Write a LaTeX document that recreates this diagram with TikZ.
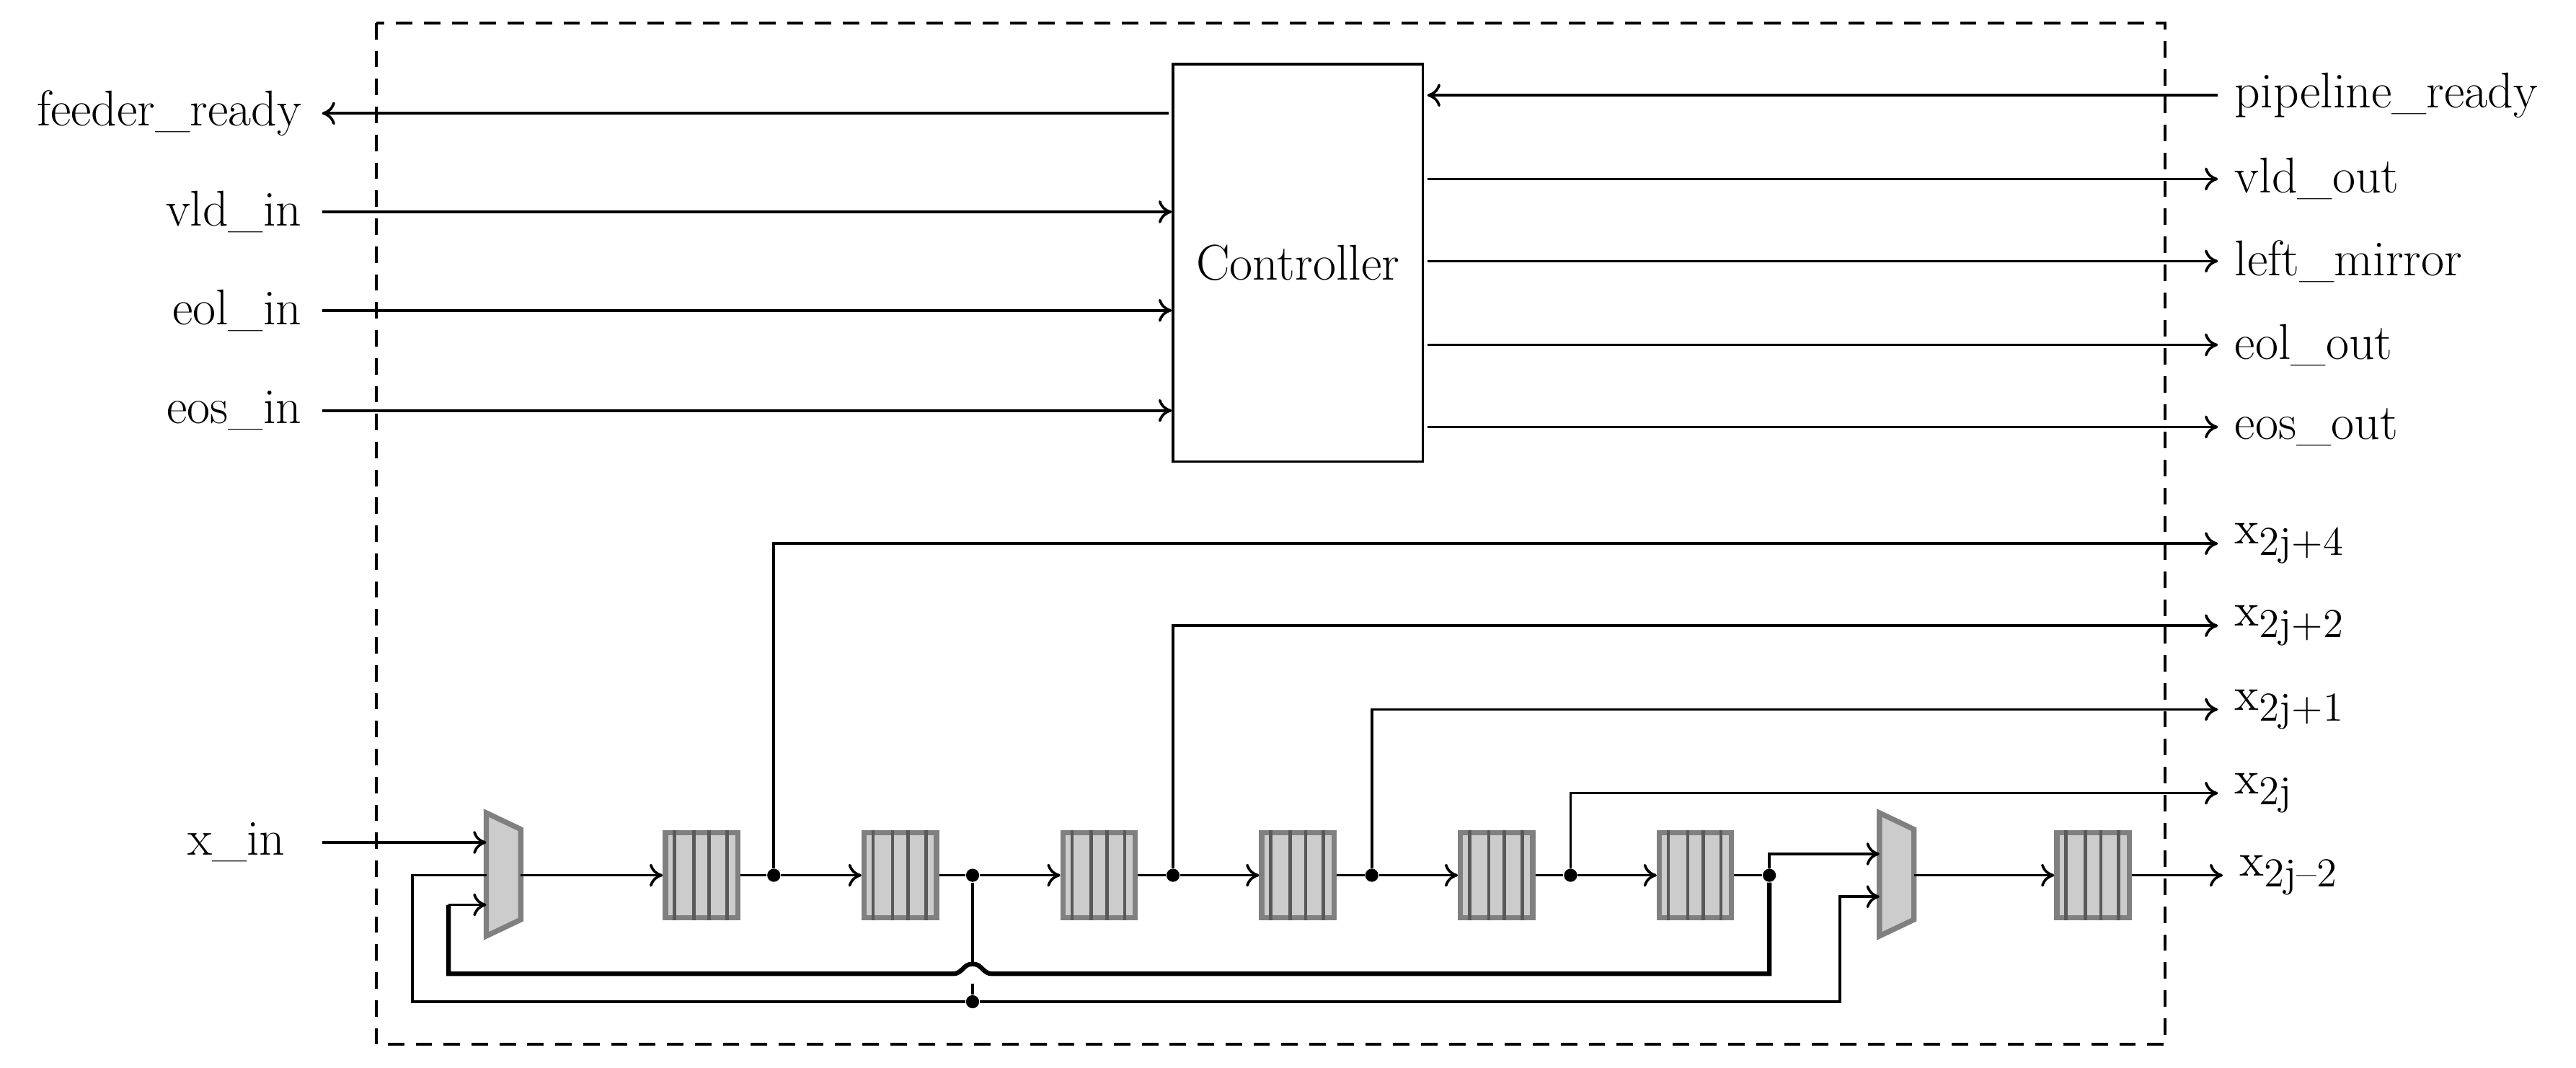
\documentclass[tikz,border=0pt]{standalone}
\usetikzlibrary{arrows.meta,calc}
\newcommand{\xsub}[1]{$\mathrm{x}_{\mbox{\fontsize{12.5}{14}\selectfont #1}}$}
\begin{document}
\begin{tikzpicture}[x=0.5pt,y=-0.5pt,
  every node/.style={font=\fontsize{15.3}{18}\selectfont},
  wire/.style={line width=0.8pt},
  arr/.style={wire,-{To[length=4pt,width=7pt]}},
  bold/.style={line width=1.4pt},
  reg/.style={draw=gray,fill=gray!40,line width=1.6pt,minimum width=22pt,minimum height=26pt,inner sep=0pt},
  dot/.style={circle,fill=black,inner sep=0pt,minimum size=4pt},
  lab/.style={inner sep=0pt}]
\useasboundingbox (0,0) rectangle (1568,650);
\draw[dash pattern=on 5pt off 3.5pt,line width=0.9pt] (229,14) rectangle (1318,636);
\node[draw,line width=0.8pt,minimum width=76pt,minimum height=121pt,inner sep=0pt] (ctl) at (790,160) {Controller};
% left signals
\node[lab,anchor=east] (fr) at (184,69) {feeder\_ready};
\node[lab,anchor=east] (vi) at (184,129) {vld\_in};
\node[lab,anchor=east] (ei) at (184,189) {eol\_in};
\node[lab,anchor=east] (si) at (184,250) {eos\_in};
\draw[arr] ([xshift=-1pt]ctl.west|-fr) -- ([xshift=6pt]fr.east);
\draw[arr] ([xshift=6pt]vi.east) -- (ctl.west|-vi);
\draw[arr] ([xshift=6pt]ei.east) -- (ctl.west|-ei);
\draw[arr] ([xshift=6pt]si.east) -- (ctl.west|-si);
% right signals
\node[lab,anchor=west] (pr) at (1360,58) {pipeline\_ready};
\node[lab,anchor=west] (vo) at (1360,109) {vld\_out};
\node[lab,anchor=west] (lm) at (1360,159) {left\_mirror};
\node[lab,anchor=west] (eo) at (1360,210) {eol\_out};
\node[lab,anchor=west] (so) at (1360,260) {eos\_out};
\draw[arr] ([xshift=-5pt]pr.west) -- ([xshift=1pt]ctl.east|-pr);
\foreach \n in {vo,lm,eo,so} \draw[arr] ([xshift=1pt]ctl.east|-\n) -- ([xshift=-5pt]\n.west);
% outputs
\node[lab,anchor=west] (o4) at (1360,331) {\xsub{2j+4}};
\node[lab,anchor=west] (o2) at (1360,381) {\xsub{2j+2}};
\node[lab,anchor=west] (o1) at (1360,432) {\xsub{2j+1}};
\node[lab,anchor=west] (o0) at (1360,483) {\xsub{2j}};
\node[lab,anchor=west] (om) at (1363,533) {\xsub{2j--2}};
\node[lab,anchor=east] (xin) at (174,513) {x\_in};
% registers
\foreach \i/\x in {1/427,2/548,3/669,4/790,5/911,6/1032,7/1274}{
  \node[reg] (r\i) at (\x,533) {};
  \foreach \f in {0.15,0.4,0.6,0.83}
    \draw[gray!70!black,line width=1pt] ($(r\i.north west)!\f!(r\i.north east)$) -- ($(r\i.south west)!\f!(r\i.south east)$);
}
% muxes
\draw[gray,fill=gray!40,line width=1.6pt] (296,495) -- (317,505) -- (317,560) -- (296,570) -- cycle;
\draw[gray,fill=gray!40,line width=1.6pt] (1144,495) -- (1165,505) -- (1165,560) -- (1144,570) -- cycle;
\coordinate (m1a) at (296,513); \coordinate (m1b) at (296,533); \coordinate (m1c) at (296,551);
\coordinate (m1o) at (317,533);
\coordinate (m2a) at (1144,520); \coordinate (m2b) at (1144,546); \coordinate (m2o) at (1165,533);
% taps
\node[dot] (t1) at (471,533) {};
\node[dot] (t2) at (592,533) {};
\node[dot] (t3) at (714,533) {};
\node[dot] (t4) at (835,533) {};
\node[dot] (t5) at (956,533) {};
\node[dot] (t6) at (1077,533) {};
\node[dot] (t7) at (592,610) {};
\coordinate (xs) at (196,513);
% main chain
\draw[arr] (xs) -- (m1a);
\draw[arr] (m1o) -- (r1.west);
\draw[wire] (r1.east) -- (t1); \draw[arr] (t1) -- (r2.west);
\draw[wire] (r2.east) -- (t2); \draw[arr] (t2) -- (r3.west);
\draw[wire] (r3.east) -- (t3); \draw[arr] (t3) -- (r4.west);
\draw[wire] (r4.east) -- (t4); \draw[arr] (t4) -- (r5.west);
\draw[wire] (r5.east) -- (t5); \draw[arr] (t5) -- (r6.west);
\draw[wire] (r6.east) -- (t6);
\draw[arr] (m2o) -- (r7.west);
\draw[arr] (r7.east) -- ([xshift=-5pt]om.west|-r7);
% output taps
\draw[arr] (t1) |- ([xshift=-5pt]o4.west);
\draw[arr] (t3) |- ([xshift=-5pt]o2.west);
\draw[arr] (t4) |- ([xshift=-5pt]o1.west);
\draw[arr] (t5) |- ([xshift=-5pt]o0.west);
% mux2 inputs
\draw[arr] (t6) |- (m2a);
\draw[wire] (t2) -- (592,587);
\draw[wire] (592,599) -- (t7);
\draw[wire] (t7) -- (251,610) |- (m1b);
\draw[arr] (t7) -- (1120,610) |- (m2b);
% bold feedback with jump
\draw[bold] (t6) -- (1077,593) -- (604,593) .. controls (598,593) and (598,587) .. (592,587) .. controls (586,587) and (586,593) .. (580,593) -- (273,593) -- (273,551);
\draw[arr] (273,551) -- (m1c);
\end{tikzpicture}
\end{document}
